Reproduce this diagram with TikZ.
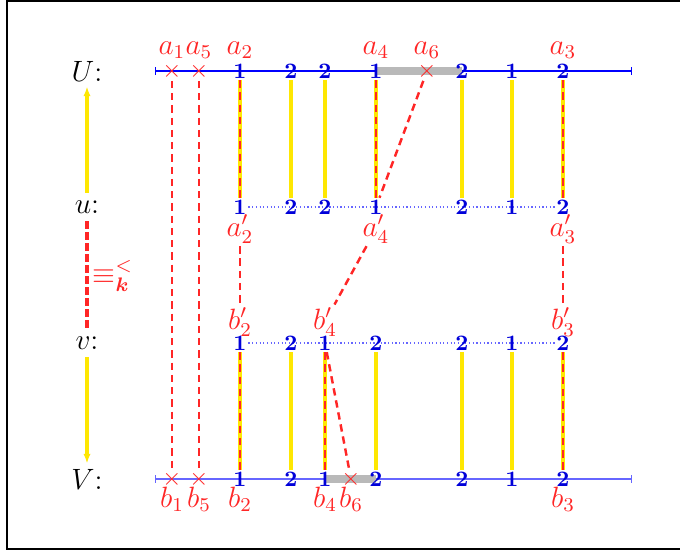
\documentclass[tikz,border=0pt]{standalone}
\usepackage{amsmath}
\usetikzlibrary{arrows.meta,positioning,backgrounds}
\colorlet{linkYellow}{yellow!95!red}
\colorlet{matchRed}{red!85}
\colorlet{hlGray}{gray!55}
\colorlet{digitBlue}{blue!85!black}

\begin{document}
\begin{tikzpicture}[x=0.1435mm, y=-0.1435mm,
    every node/.style={inner sep=1pt},
    digit/.style={font=\small\bfseries, text=digitBlue, inner sep=0.6pt},
    cross/.style={text=matchRed, inner sep=0.5pt},
    lab/.style={text=matchRed, anchor=base, font=\large},
    link/.style={linkYellow, line width=1.4pt},
    match/.style={matchRed, dash pattern=on 3pt off 2pt, line width=1pt},
    hl/.style={hlGray, line width=3.4pt}]

        \useasboundingbox (0,0) rectangle (680,552);
        \clip (0,0) rectangle (680,552);
        \draw[line width=1pt] (7,1) rectangle (700,549);

        % row names
        \node[font=\large] (Ul) at (87,71)  {$U$:};
        \node[font=\large] (ul) at (87,207) {$u$:};
        \node[font=\large] (vl) at (87,343) {$v$:};
        \node[font=\large] (Vl) at (87,479) {$V$:};

        \draw[linkYellow, line width=1.6pt, -{Latex[length=4pt,width=3pt]}, shorten <=2pt, shorten >=1pt] (ul) -- (Ul);
        \draw[linkYellow, line width=1.6pt, -{Latex[length=4pt,width=3pt]}, shorten <=2pt, shorten >=1pt] (vl) -- (Vl);
        \draw[matchRed, dash pattern=on 3pt off 1.5pt, line width=1.3pt, shorten <=2pt, shorten >=2pt] (ul) -- (vl);
        \node[text=matchRed, font=\large] (eqk) at (113,276) {$\equiv^{<}_{\boldsymbol{k}}$};

        % digits
        \foreach \n/\x/\d in {1/240/1,2/291/2,3/325/2,4/376/1,5/462/2,6/512/1,7/563/2}{
            \node[digit] (U\n) at (\x,71)  {\d};
            \node[digit] (u\n) at (\x,207) {\d};
        }
        \foreach \n/\x/\d in {1/240/1,2/291/2,3/325/1,4/376/2,5/462/2,6/512/1,7/563/2}{
            \node[digit] (v\n) at (\x,343) {\d};
            \node[digit] (V\n) at (\x,479) {\d};
        }

        % unmatched points
        \node[cross] (Ua1) at (172,71)  {$\times$};
        \node[cross] (Ua5) at (199,71)  {$\times$};
        \node[cross] (Ua6) at (427,71)  {$\times$};
        \node[cross] (Vb1) at (172,479) {$\times$};
        \node[cross] (Vb5) at (199,479) {$\times$};
        \node[cross] (Vb6) at (351,479) {$\times$};

        % axes and highlights
        \coordinate (Us) at (155,71);
        \coordinate (Ue) at (632,71);
        \coordinate (Vs) at (155,479);
        \coordinate (Ve) at (632,479);
        \begin{scope}[on background layer]
            \draw[blue, line width=0.6pt, {Bar[width=3pt]}-{Bar[width=3pt]}] (Us) -- (Ue);
            \draw[blue!60, line width=0.6pt, {Bar[width=3pt]}-{Bar[width=3pt]}] (Vs) -- (Ve);
            \draw[blue!60, densely dotted, line width=0.5pt] (u1) -- (u7);
            \draw[blue!60, densely dotted, line width=0.5pt] (v1) -- (v7);
            \draw[hl] (U4.center) -- (U5.center);
            \draw[hl] (V3.center) -- (V4.center);
        \end{scope}

        % labels
        \foreach \nm/\x/\t in {a1/172/a_1, a5/199/a_5, a2/240/a_2, a4/376/a_4, a6/427/a_6, a3/563/a_3}{
            \node[lab] (l\nm) at (\x,54) {$\t$};
        }
        \foreach \nm/\x/\t in {b1/172/b_1, b5/199/b_5, b2/240/b_2, b4/325/b_4, b6/351/b_6, b3/563/b_3}{
            \node[lab] (l\nm) at (\x,507) {$\t$};
        }
        \foreach \nm/\x/\t in {a2p/240/a'_2, a4p/376/a'_4, a3p/563/a'_3}{
            \node[lab] (l\nm) at (\x,236) {$\t$};
        }
        \foreach \nm/\x/\t in {b2p/240/b'_2, b4p/325/b'_4, b3p/563/b'_3}{
            \node[lab] (l\nm) at (\x,329) {$\t$};
        }

        % yellow links
        \foreach \n in {1,...,7}{
            \draw[link] (U\n) -- (u\n);
            \draw[link] (v\n) -- (V\n);
        }

        % red matchings
        \draw[match] (Ua1) -- (Vb1);
        \draw[match] (Ua5) -- (Vb5);
        \draw[match] (U1) -- (u1);
        \draw[match] (la2p) -- (lb2p);
        \draw[match] (v1) -- (V1);
        \draw[match] (U4) -- (u4);
        \draw[match] (Ua6) -- (u4);
        \draw[match] (la4p) -- (lb4p);
        \draw[match] (v3) -- (V3);
        \draw[match] (v3) -- (Vb6);
        \draw[match] (U7) -- (u7);
        \draw[match] (la3p) -- (lb3p);
        \draw[match] (v7) -- (V7);

    \end{tikzpicture}
\end{document}
